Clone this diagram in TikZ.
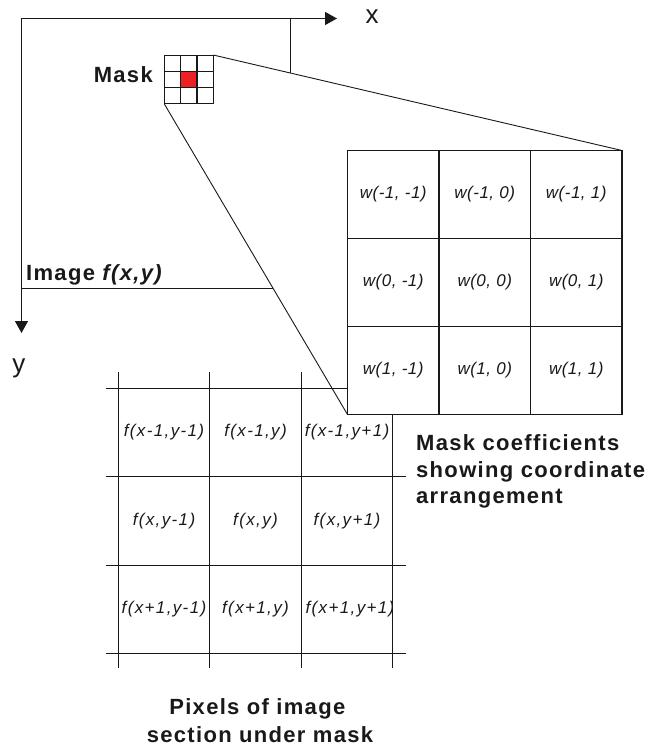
\documentclass[tikz,border=0pt]{standalone}
\usepackage{fontspec}
\setmainfont{Liberation Sans}
\newfontfamily\lblfont[LetterSpace=6]{Liberation Sans}
\newfontfamily\itlfont[LetterSpace=8]{Liberation Sans}
\newfontfamily\wfont[LetterSpace=3]{Liberation Sans}
\usetikzlibrary{arrows.meta}
\definecolor{maskred}{RGB}{237,32,36}
\definecolor{inkc}{RGB}{25,25,25}
\tikzset{
  ln/.style={line width=1.3pt, draw=inkc},
  axisln/.style={line width=1.3pt, draw=inkc, -{Triangle[length=12pt,width=13pt]}},
  coneln/.style={line width=0.9pt, draw=inkc},
  axlbl/.style={font=\fontsize{26}{30}\selectfont, inner sep=0pt, text=inkc},
  blbl/.style={font=\lblfont\fontsize{22}{26}\selectfont\bfseries, inner sep=0pt, text=inkc},
  flbl/.style={font=\itlfont\fontsize{17}{19}\selectfont\itshape, inner sep=0pt, text=inkc},
  wcell/.style={draw=inkc, fill=white, line width=1.3pt, minimum width=91.5pt, minimum height=88pt,
    inner sep=0pt, outer sep=0pt, font=\wfont\fontsize{17}{19}\selectfont\itshape, text=inkc},
  mcell/.style={draw=inkc, fill=white, line width=1pt, minimum size=16.33pt, inner sep=0pt, outer sep=0pt}
}
\begin{document}
\begin{tikzpicture}[x=1pt,y=-1pt]
\useasboundingbox (0,0) rectangle (660,749);
% axes
\coordinate (O) at (21.5,18.5);
\coordinate (xtip) at (337,18.5);
\coordinate (ytip) at (21.5,333);
\draw[axisln] (O) -- (xtip);
\draw[axisln] (O) -- (ytip);
\node[axlbl] (xl) at (372,17) {x};
\node[axlbl] (yl) at (19,368) {y};
% image rectangle (partly hidden by the zoom cone)
\coordinate (imgTR) at (290.5,18.5);
\coordinate (imgR) at (290.5,150);
\coordinate (imgBL) at (21.5,288.5);
\coordinate (imgB) at (290.5,288.5);
\draw[ln] (imgTR) -- (imgR);
\draw[ln] (imgBL) -- (imgB);
% zoom cone fill
\fill[white] (213.3,55) -- (622,150) -- (622,414) -- (347,414) -- (164.3,104) -- cycle;
% pixel grid
\foreach \yy in {388.5,476.5,565.5,653.5} \draw[ln] (106,\yy) -- (406,\yy);
\foreach \xx in {118.5,209.5,301.5,392.5} \draw[ln] (\xx,372) -- (\xx,668);
\begin{scope}
\clip (118.5,388.5) rectangle (392,653);
\node[flbl] (p11) at (164,432) {f(x-1,y-1)};
\node[flbl] (p12) at (255.5,432) {f(x-1,y)};
\node[flbl] (p13) at (347,432) {f(x-1,y+1)};
\node[flbl] (p21) at (164,521) {f(x,y-1)};
\node[flbl] (p22) at (255.5,521) {f(x,y)};
\node[flbl] (p23) at (347,521) {f(x,y+1)};
\node[flbl] (p31) at (164,609) {f(x+1,y-1)};
\node[flbl] (p32) at (255.5,609) {f(x+1,y)};
\node[flbl] (p33) at (350,609) {f(x+1,y+1)};
\end{scope}
% mask coefficient grid
\node[wcell] (w11) at (393.25,194.5) {w(-1, -1)};
\node[wcell] (w12) at (484.75,194.5) {w(-1, 0)};
\node[wcell] (w13) at (576.25,194.5) {w(-1, 1)};
\node[wcell] (w21) at (393.25,282.5) {w(0, -1)};
\node[wcell] (w22) at (484.75,282.5) {w(0, 0)};
\node[wcell] (w23) at (576.25,282.5) {w(0, 1)};
\node[wcell] (w31) at (393.25,370.5) {w(1, -1)};
\node[wcell] (w32) at (484.75,370.5) {w(1, 0)};
\node[wcell] (w33) at (576.25,370.5) {w(1, 1)};
% small mask
\node[mcell] (m11) at (172.5,63.2) {};
\node[mcell] (m12) at (188.8,63.2) {};
\node[mcell] (m13) at (205.2,63.2) {};
\node[mcell] (m21) at (172.5,79.5) {};
\node[mcell, fill=maskred] (m22) at (188.8,79.5) {};
\node[mcell] (m23) at (205.2,79.5) {};
\node[mcell] (m31) at (172.5,95.8) {};
\node[mcell] (m32) at (188.8,95.8) {};
\node[mcell] (m33) at (205.2,95.8) {};
% cone lines
\draw[coneln] (m13.north east) -- (w13.north east);
\draw[coneln] (m31.south west) -- (w31.south west);
% labels
\node[blbl, anchor=base east] (masklbl) at (153,83) {Mask};
\node[blbl, anchor=base west] (imglbl) at (26,280) {Image \textit{f(x,y)}};
\node[blbl, anchor=base west] (mc1) at (416,450) {Mask coefficients};
\node[blbl, anchor=base west] (mc2) at (416,477) {showing coordinate};
\node[blbl, anchor=base west] (mc3) at (416,503.5) {arrangement};
\node[blbl, anchor=base] (px1) at (257.3,714) {Pixels of image};
\node[blbl, anchor=base] (px2) at (260,742) {section under mask};
\end{tikzpicture}
\end{document}
